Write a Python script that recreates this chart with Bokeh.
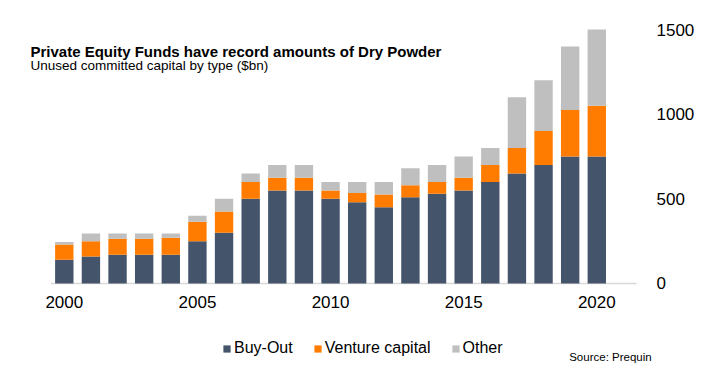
from bokeh.plotting import figure
from bokeh.models import ColumnDataSource, Range1d, FixedTicker, Label, Legend, LegendItem
from bokeh.embed import file_html
from bokeh.resources import INLINE

years = list(range(2000, 2021))
buyout = [140, 160, 170, 170, 170, 250, 300, 500, 550, 550, 500, 480, 450, 510, 530, 550, 600, 650, 700, 750, 750]
venture = [90, 90, 95, 95, 100, 115, 125, 100, 75, 75, 50, 55, 75, 70, 70, 75, 100, 150, 200, 275, 300]
other = [15, 45, 30, 30, 25, 35, 75, 50, 75, 75, 50, 65, 75, 100, 100, 125, 100, 300, 300, 375, 450]
series_names = ["Buy-Out", "Venture capital", "Other"]
colors = ["#44546A", "#FF7C00", "#BFBFBF"]
x_ticks = [2000, 2005, 2010, 2015, 2020]
x_tick_labels = ["2000", "2005", "2010", "2015", "2020"]
y_ticks = [0, 500, 1000, 1500]
axis_start, axis_end = 1999.5, 2021.5

FONT = "Liberation Sans"

src = ColumnDataSource(dict(year=years, buyout=buyout, venture=venture, other=other))

p = figure(width=697, height=372,
           x_range=Range1d(1998.355, 2022.280), y_range=Range1d(-484.3, 1553.3),
           output_backend="svg", toolbar_location=None,
           x_axis_location=None, y_axis_location="right",
           min_border_left=20, min_border_right=37, min_border_top=20, min_border_bottom=7)
p.outline_line_color = None
p.xgrid.visible = False
p.ygrid.visible = False
p.background_fill_color = "white"
p.border_fill_color = "white"

# baseline (category axis line)
p.segment(x0=[axis_start], x1=[axis_end], y0=[0], y1=[0], line_color="#D9D9D9", line_width=1.5)

renderers = p.vbar_stack(["buyout", "venture", "other"], x="year", width=0.69,
                         fill_color=colors, line_color=None, source=src)

# category axis labels
p.text(x=x_ticks, y=[0] * len(x_ticks), text=x_tick_labels, y_offset=19,
       text_align="center", text_baseline="middle", text_font={"value": FONT},
       text_font_size="17px", text_color="black")

ya = p.yaxis[0]
ya.ticker = FixedTicker(ticks=y_ticks)
ya.major_tick_line_color = None
ya.minor_tick_line_color = None
ya.axis_line_color = None
ya.major_label_standoff = -7
ya.major_label_text_font = FONT
ya.major_label_text_font_size = "17px"
ya.major_label_text_color = "black"

legend = Legend(items=[LegendItem(label=n, renderers=[r]) for n, r in zip(series_names, renderers)],
                orientation="horizontal", location=(202, 8),
                border_line_color=None, background_fill_alpha=0,
                padding=0, margin=0, spacing=20,
                glyph_width=9, glyph_height=9, label_standoff=3,
                label_text_baseline="alphabetic",
                label_text_font=FONT, label_text_font_size="16px", label_text_color="black")
p.add_layout(legend)

p.add_layout(Label(x=10, y=314, x_units="screen", y_units="screen",
                   text="Private Equity Funds have record amounts of Dry Powder",
                   text_font=FONT, text_font_style="bold", text_font_size="15px",
                   text_baseline="alphabetic", text_color="black"))
p.add_layout(Label(x=10, y=300.3, x_units="screen", y_units="screen",
                   text="Unused committed capital by type ($bn)",
                   text_font=FONT, text_font_size="13.5px",
                   text_baseline="alphabetic", text_color="black"))
p.add_layout(Label(x=548.7, y=8.7, x_units="screen", y_units="screen",
                   text="Source: Prequin",
                   text_font=FONT, text_font_size="11.5px",
                   text_baseline="alphabetic", text_color="black"))

open("out.html", "w").write(file_html(p, INLINE))
